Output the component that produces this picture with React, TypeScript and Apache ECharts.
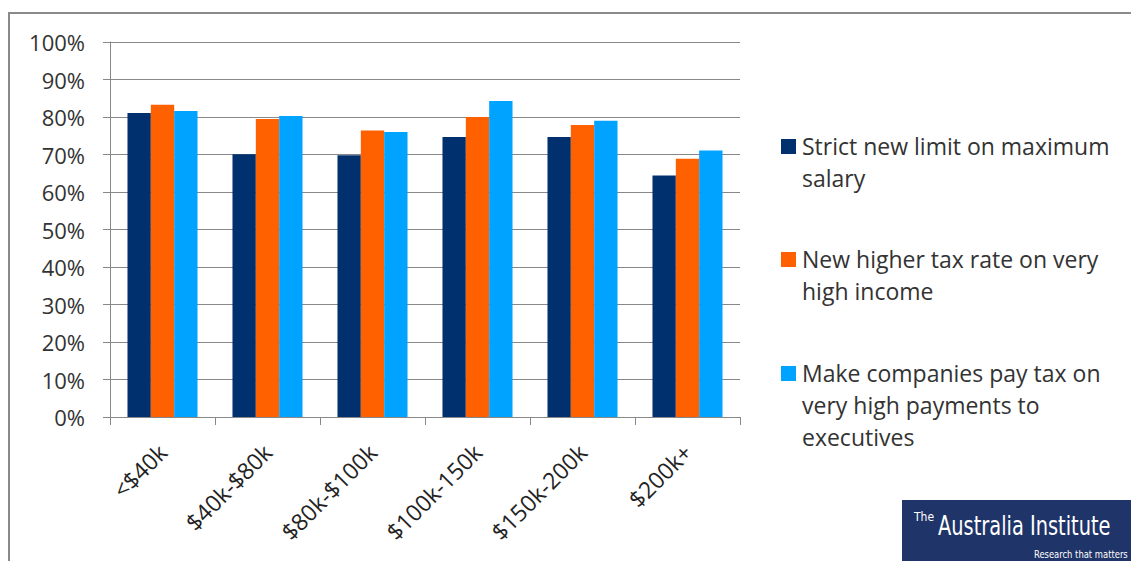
import React, { useEffect, useRef } from "react";
import * as echarts from "echarts";

const categories = ["<$40k", "$40k-$80k", "$80k-$100k", "$100k-150k", "$150k-200k", "$200k+"];
const seriesNames = [
  "Strict new limit on maximum\nsalary",
  "New higher tax rate on very\nhigh income",
  "Make companies pay tax on\nvery high payments to\nexecutives",
];
const strictLimit = [81.1, 70.1, 69.8, 74.7, 74.7, 64.4];
const higherTax = [83.3, 79.5, 76.4, 80.0, 77.9, 68.9];
const companiesTax = [81.6, 80.3, 76.0, 84.3, 79.0, 71.1];
const colors = ["#00306E", "#FF6100", "#00A3FF"];
const yTicks = { min: 0, max: 100, interval: 10 };

const FONT = "'Open Sans', 'Noto Sans', sans-serif";
const LOGO_FONT = "'DejaVu Sans Condensed', 'Liberation Sans', sans-serif";

export default function App() {
  const ref = useRef<HTMLDivElement>(null);
  useEffect(() => {
    if (!ref.current) return;
    const chart = echarts.init(ref.current, null, { renderer: "svg" });
    const data = [strictLimit, higherTax, companiesTax];
    const legendTops = [139, 252, 366];
    const legendGraphics: any[] = [];
    seriesNames.forEach((n, i) => {
      legendGraphics.push({
        type: "rect",
        shape: { x: 781, y: legendTops[i], width: 15, height: 15 },
        style: { fill: colors[i] },
      });
      legendGraphics.push({
        type: "text",
        x: 802,
        y: legendTops[i] - 9,
        style: {
          text: n,
          fill: "#333",
          font: `23px ${FONT}`,
          lineHeight: 32,
          textVerticalAlign: "top",
        },
      });
    });
    chart.setOption({
      animation: false,
      backgroundColor: "#fff",
      grid: { left: 110, right: 391, top: 42, bottom: 144, containLabel: false },
      xAxis: {
        type: "category",
        data: categories,
        axisLine: { show: true, lineStyle: { color: "#888", width: 1 } },
        axisTick: { show: true, length: 8, alignWithLabel: false, lineStyle: { color: "#888" } },
        axisLabel: {
          interval: 0,
          rotate: 45,
          margin: 31,
          color: "#222",
          fontSize: 23,
          fontFamily: FONT,
        },
      },
      yAxis: {
        type: "value",
        min: yTicks.min,
        max: yTicks.max,
        interval: yTicks.interval,
        axisLine: { show: true, lineStyle: { color: "#888", width: 1 } },
        axisTick: { show: true, length: 7, lineStyle: { color: "#888" } },
        splitLine: { show: true, lineStyle: { color: "#888", width: 1 } },
        axisLabel: {
          formatter: "{value}%",
          margin: 25,
          color: "#333",
          fontSize: 22,
          fontFamily: FONT,
        },
      },
      series: data.map((d, i) => ({
        type: "bar",
        name: seriesNames[i],
        data: d,
        barGap: "0%",
        barCategoryGap: "33.3%",
        itemStyle: { color: colors[i] },
      })),
      graphic: [
        {
          type: "rect",
          shape: { x: 9, y: 13, width: 1200, height: 600 },
          style: { fill: "none", stroke: "#8a8a8a", lineWidth: 2 },
          silent: true,
        },
        ...legendGraphics,
        {
          type: "rect",
          shape: { x: 902, y: 500, width: 229, height: 61 },
          style: { fill: "#1F3468" },
        },
        {
          type: "text",
          x: 914,
          y: 517,
          style: {
            text: "The",
            fill: "#fff",
            font: `12px ${LOGO_FONT}`,
            textVerticalAlign: "middle",
          },
        },
        {
          type: "text",
          x: 938,
          y: 526,
          scaleX: 0.83,
          style: {
            text: "Australia Institute",
            fill: "#fff",
            font: `26px ${LOGO_FONT}`,
            textVerticalAlign: "middle",
          },
        },
        {
          type: "text",
          x: 1034,
          y: 554,
          scaleX: 0.85,
          style: {
            text: "Research that matters",
            fill: "#fff",
            font: `11px ${LOGO_FONT}`,
            textVerticalAlign: "middle",
          },
        },
      ],
    });
    return () => chart.dispose();
  }, []);
  return (
    <div
      ref={ref}
      style={{ position: "fixed", left: 0, top: 0, width: 1131, height: 561 }}
    />
  );
}
